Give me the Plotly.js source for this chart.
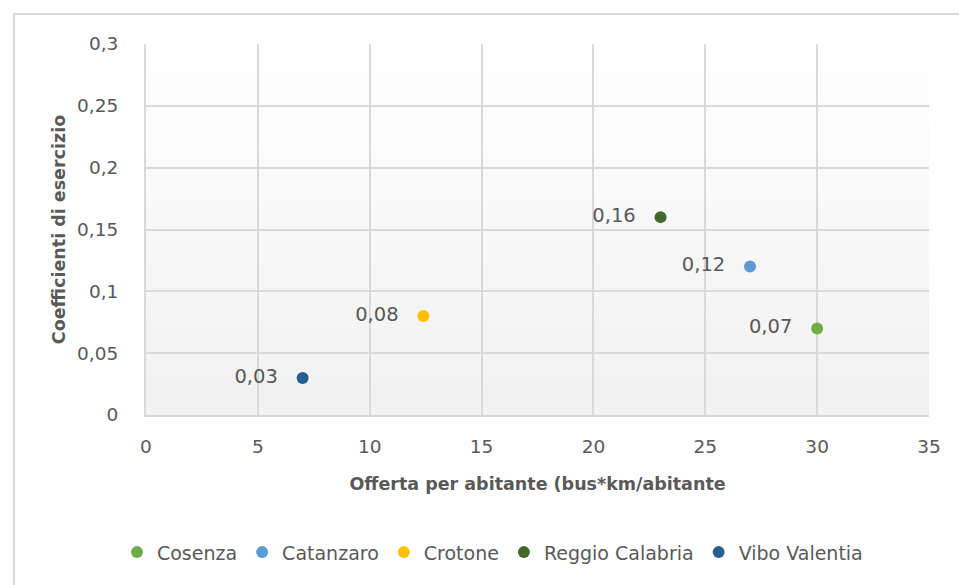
<!DOCTYPE html>
<html>
<head>
<meta charset="utf-8">
<script src="https://cdn.plot.ly/plotly-3.0.1.min.js"></script>
<style>
  html, body { margin: 0; padding: 0; background: #ffffff; }
  #wrap { position: relative; width: 959px; height: 585px; overflow: hidden; }
  #frame { position: absolute; left: 13px; top: 13px; width: 1000px; height: 1000px; border: 2px solid #d9d9d9; box-sizing: border-box; }
  #bg { position: absolute; left: 146px; top: 44px; width: 783px; height: 371px; background: linear-gradient(#ffffff, #f1f1f1); }
  #chart { position: absolute; left: 0; top: 0; width: 959px; height: 585px; }
</style>
</head>
<body>
<div id="wrap">
  <div id="frame"></div>
  <div id="bg"></div>
  <div id="chart"></div>
</div>
<script>
const cities = ["Cosenza", "Catanzaro", "Crotone", "Reggio Calabria", "Vibo Valentia"];
const offerta = [30, 27, 12.4, 23, 7];          // bus*km/abitante
const coefficienti = [0.07, 0.12, 0.08, 0.16, 0.03];
const colors = ["#70ad47", "#5b9bd5", "#ffc000", "#43682b", "#255e91"];
const xTicks = [0, 5, 10, 15, 20, 25, 30, 35];
const yTicks = [0, 0.05, 0.1, 0.15, 0.2, 0.25, 0.3];

const FONT = "DejaVu Sans, sans-serif";
const GREY = "#595959";

const traces = cities.map((c, i) => ({
  type: "scatter",
  mode: "markers+text",
  name: c,
  x: [offerta[i]],
  y: [coefficienti[i]],
  marker: { color: colors[i], size: 12 },
  texttemplate: "%{y:.2f}\u00a0\u00a0\u2009",
  textposition: "middle left",
  textfont: { family: FONT, size: 19.5, color: GREY },
  hoverinfo: "skip",
  cliponaxis: false
}));

const layout = {
  width: 959,
  height: 585,
  margin: { l: 146, r: 30, t: 44, b: 170 },
  paper_bgcolor: "rgba(0,0,0,0)",
  plot_bgcolor: "rgba(0,0,0,0)",
  separators: ",.",
  showlegend: true,
  font: { family: FONT, color: GREY, size: 18.5 },
  xaxis: {
    range: [0, 35],
    tickvals: xTicks,
    ticktext: xTicks.map(String),
    showgrid: true,
    gridcolor: "#d9d9d9",
    gridwidth: 2,
    zeroline: false,
    showline: true,
    linecolor: "#d9d9d9",
    linewidth: 2,
    ticks: "",
    ticklabelstandoff: 14,
    tickfont: { family: FONT, size: 18.5, color: GREY },
    title: { text: "<b>Offerta per abitante (bus*km/abitante</b>", font: { family: FONT, size: 17.5, color: GREY }, standoff: 22 }
  },
  yaxis: {
    range: [0, 0.3],
    tickvals: yTicks,
    ticktext: yTicks.map(v => String(v).replace(".", ",")),
    showgrid: true,
    gridcolor: "#d9d9d9",
    gridwidth: 2,
    zeroline: false,
    showline: true,
    linecolor: "#d9d9d9",
    linewidth: 2,
    ticks: "",
    ticklabelstandoff: 22,
    tickfont: { family: FONT, size: 18.5, color: GREY },
    title: { text: "<b>Coefficienti di esercizio</b>", font: { family: FONT, size: 17.5, color: GREY }, standoff: 7 }
  },
  legend: {
    orientation: "h",
    x: 0.4425,
    xanchor: "center",
    y: -0.37,
    yanchor: "middle",
    font: { family: FONT, size: 19, color: GREY },
    itemwidth: 30,
    bgcolor: "rgba(0,0,0,0)"
  }
};

Plotly.newPlot("chart", traces, layout, { displayModeBar: false, staticPlot: true });
</script>
</body>
</html>
